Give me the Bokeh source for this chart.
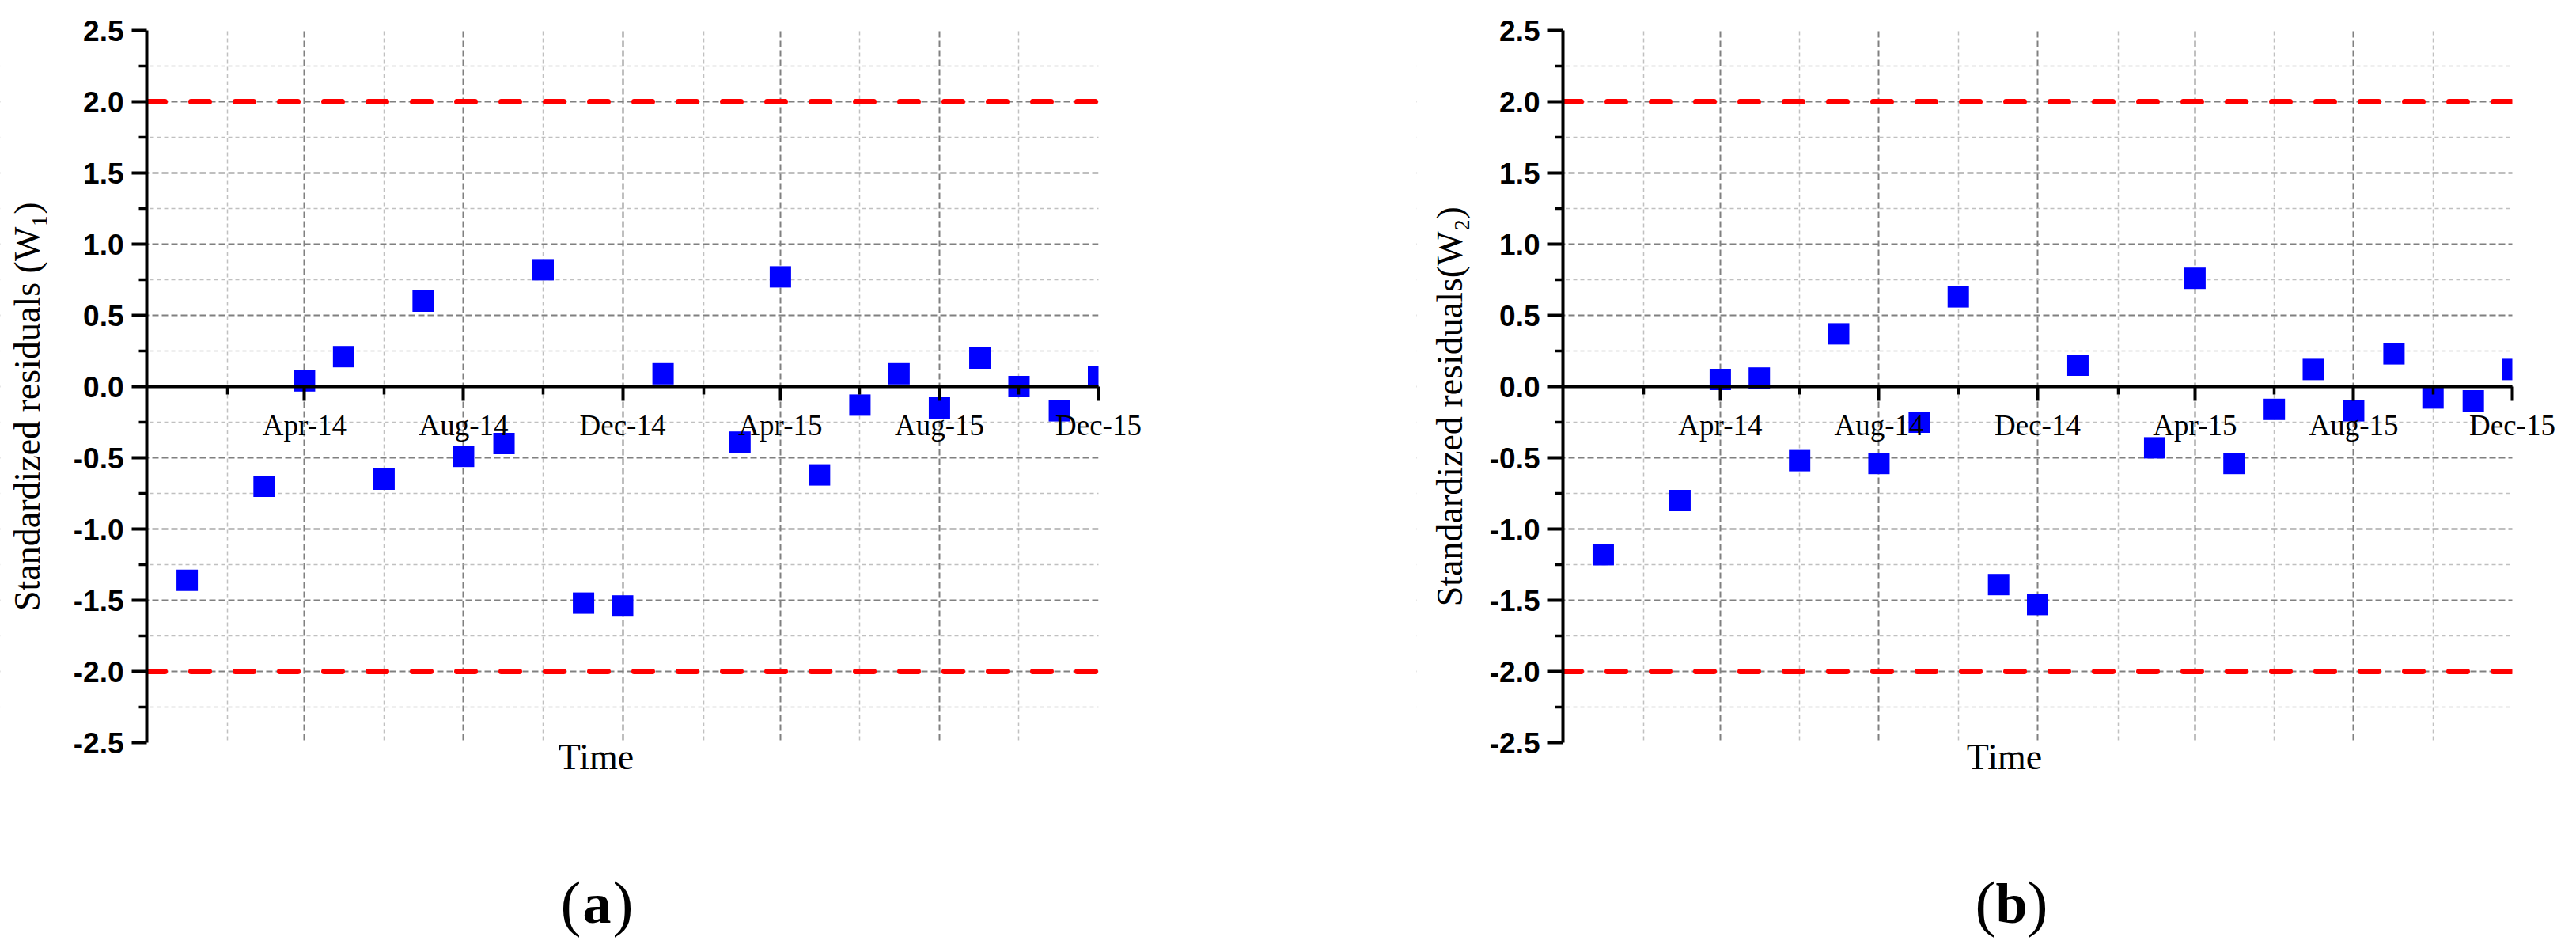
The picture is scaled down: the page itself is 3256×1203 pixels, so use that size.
import numpy as np
import pandas as pd
from bokeh.plotting import figure
from bokeh.models import (FixedTicker, Range1d, Label, NumeralTickFormatter,
                          DatetimeTickFormatter)
from bokeh.layouts import row
from bokeh.embed import file_html
from bokeh.resources import INLINE

# ---------------- data ----------------
months = ["Jan-14", "Mar-14", "Apr-14", "May-14", "Jun-14", "Jul-14", "Aug-14",
          "Sep-14", "Oct-14", "Nov-14", "Dec-14", "Jan-15", "Mar-15", "Apr-15",
          "May-15", "Jun-15", "Jul-15", "Aug-15", "Sep-15", "Oct-15", "Nov-15",
          "Dec-15"]
resid_w1 = [-1.36, -0.70, 0.04, 0.21, -0.65, 0.60, -0.49, -0.40, 0.82, -1.52,
            -1.54, 0.09, -0.39, 0.77, -0.62, -0.13, 0.09, -0.15, 0.20, 0.00,
            -0.17, 0.07]
resid_w2 = [-1.18, -0.80, 0.05, 0.06, -0.52, 0.37, -0.54, -0.25, 0.63, -1.39,
            -1.53, 0.15, -0.43, 0.76, -0.54, -0.16, 0.12, -0.17, 0.23, -0.08,
            -0.10, 0.12]
x_tick_labels = ["Apr-14", "Aug-14", "Dec-14", "Apr-15", "Aug-15", "Dec-15"]
x_minor_labels = ["Feb-14", "Jun-14", "Oct-14", "Feb-15", "Jun-15", "Oct-15"]
x_start, x_end = "Dec-13", "Dec-15"
y_min, y_max = -2.5, 2.5
y_major = [-2.5, -2.0, -1.5, -1.0, -0.5, 0.0, 0.5, 1.0, 1.5, 2.0, 2.5]
y_minor = [-2.25, -1.75, -1.25, -0.75, -0.25, 0.25, 0.75, 1.25, 1.75, 2.25]
limit = 2.0
y_labels = ["Standardized residuals (W\u2081)", "Standardized residuals(W\u2082)"]
tags = ["a", "b"]


def ms(lbl):
    return pd.to_datetime(lbl, format="%b-%y").value / 1e6


SERIF = "Liberation Serif"
SANS = "Liberation Sans"

FIG_H = 1187          # canvas height (page y 8 .. 1195)
AX_TOP = 38           # canvas y of y = 2.5
PX_PER_UNIT = 180.0   # vertical scale


def make_panel(values, ylabel, tag, fig_w, ax_left, ax_w, ylab_dx, time_dx, tag_dx):
    x0, x1 = ms(x_start), ms(x_end)
    ms_per_px = (x1 - x0) / ax_w
    xr0 = x0 - ax_left * ms_per_px
    xr1 = xr0 + fig_w * ms_per_px
    yr1 = y_max + AX_TOP / PX_PER_UNIT
    yr0 = yr1 - FIG_H / PX_PER_UNIT

    p = figure(frame_width=fig_w, frame_height=FIG_H, x_axis_type="datetime",
               x_range=Range1d(xr0, xr1), y_range=Range1d(yr0, yr1),
               output_backend="svg", toolbar_location=None,
               min_border_left=0, min_border_right=0,
               min_border_top=0, min_border_bottom=0)
    p.outline_line_color = None
    p.background_fill_color = "white"
    p.border_fill_color = "white"

    # grids
    xg = p.xgrid[0]
    xg.ticker = FixedTicker(ticks=[ms(t) for t in x_tick_labels[:-1]],
                            minor_ticks=[ms(t) for t in x_minor_labels])
    yg = p.ygrid[0]
    yg.ticker = FixedTicker(ticks=y_major[1:-1], minor_ticks=y_minor)
    for g in (xg, yg):
        g.grid_line_color = "#808080"
        g.grid_line_width = 2
        g.grid_line_dash = "8 4"
        g.minor_grid_line_color = "#c0c0c0"
        g.minor_grid_line_width = 1.5
        g.minor_grid_line_dash = "5 4"

    # +-2 limits
    for loc in (limit, -limit):
        p.line(x=[x0, x1], y=[loc, loc], line_color="#ff0000", line_width=7,
               line_dash="23 33", line_cap="round")

    p.scatter(x=[ms(m) for m in months], y=values, marker="square", size=27,
              fill_color="#0000ff", line_color=None)

    # white masks outside the plotting area (clip grid lines and markers)
    p.quad(left=[xr0, x1, xr0, xr0], right=[x0, xr1, xr1, xr1],
           bottom=[yr0, yr0, yr0, y_max], top=[yr1, yr1, y_min, yr1],
           fill_color="white", line_color=None)

    # x axis at y = 0
    xa = p.xaxis[0]
    xa.fixed_location = 0
    xa.bounds = (x0, x1)
    xa.ticker = FixedTicker(ticks=[ms(t) for t in x_tick_labels],
                            minor_ticks=[ms(t) for t in x_minor_labels])
    fmt = "%b-%y"
    xa.formatter = DatetimeTickFormatter(months=fmt, days=fmt, years=fmt,
                                         hours=fmt, minutes=fmt)
    xa.axis_line_width = 4
    xa.axis_line_color = "black"
    xa.major_tick_in = 0
    xa.major_tick_out = 18
    xa.minor_tick_in = 0
    xa.minor_tick_out = 10
    xa.major_tick_line_width = 4
    xa.minor_tick_line_width = 3.5
    xa.major_label_text_font = SERIF
    xa.major_label_text_font_size = "37px"
    xa.major_label_text_color = "black"
    xa.major_label_standoff = 10

    # y axis at Dec-13
    ya = p.yaxis[0]
    ya.fixed_location = x0
    ya.bounds = (y_min, y_max)
    ya.ticker = FixedTicker(ticks=y_major, minor_ticks=y_minor)
    ya.formatter = NumeralTickFormatter(format="0.0")
    ya.axis_line_width = 4
    ya.axis_line_color = "black"
    ya.major_tick_in = 0
    ya.major_tick_out = 19
    ya.minor_tick_in = 0
    ya.minor_tick_out = 10
    ya.major_tick_line_width = 4
    ya.minor_tick_line_width = 3.5
    ya.major_label_text_font = SANS
    ya.major_label_text_font_style = "bold"
    ya.major_label_text_font_size = "37px"
    ya.major_label_text_color = "black"
    ya.major_label_standoff = 10

    p.add_layout(Label(x=x0, y=-0.14, x_offset=ylab_dx, text=ylabel,
                       angle=np.pi / 2, text_align="center", text_baseline="middle",
                       text_font=SERIF, text_font_size="46px", text_color="black"))
    p.add_layout(Label(x=x0, y=-2.6, x_offset=time_dx, text="Time",
                       text_align="center", text_baseline="alphabetic",
                       text_font=SERIF, text_font_size="46px", text_color="black"))
    tag_y = -3.63
    p.add_layout(Label(x=x0, y=tag_y, x_offset=tag_dx - 20, text="(",
                       text_align="right", text_baseline="alphabetic",
                       text_font=SERIF, text_font_size="78px", text_color="black"))
    p.add_layout(Label(x=x0, y=tag_y, x_offset=tag_dx, text=tag,
                       text_align="center", text_baseline="alphabetic",
                       text_font=SERIF, text_font_style="bold",
                       text_font_size="72px", text_color="black"))
    p.add_layout(Label(x=x0, y=tag_y, x_offset=tag_dx + 20, text=")",
                       text_align="left", text_baseline="alphabetic",
                       text_font=SERIF, text_font_size="78px", text_color="black"))
    return p


# panel (a): canvas page x 8..1798, axis from page x 193 to 1396
pa = make_panel(resid_w1, y_labels[0], tags[0], 1790, 185, 1203, -151, 568, 569)
# panel (b): canvas page x 1798..3248, axis from page x 1983 to 3183
pb = make_panel(resid_w2, y_labels[1], tags[1], 1450, 185, 1200, -143, 558, 567)

layout = row(pa, pb)
open("out.html", "w").write(file_html(layout, INLINE))
